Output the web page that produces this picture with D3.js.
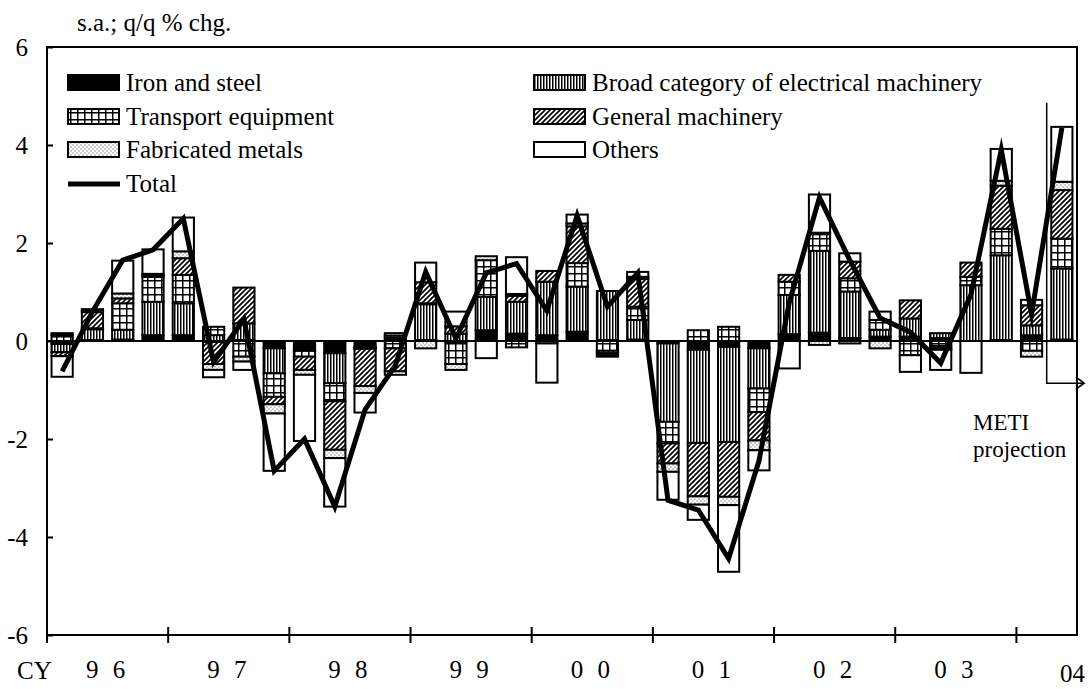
<!DOCTYPE html>
<html>
<head>
<meta charset="utf-8">
<script src="https://cdn.jsdelivr.net/npm/d3@7"></script>
<style>
  html, body { margin: 0; padding: 0; background: #fff; }
  svg text { font-family: "Liberation Serif", "Times New Roman", serif; fill: #000; }
</style>
</head>
<body>
<svg id="chart" width="1090" height="689"></svg>
<script>
// Quarterly contributions to industrial production growth (s.a., q/q % chg.)
const quarters = [
  "96Q1","96Q2","96Q3","96Q4","97Q1","97Q2","97Q3","97Q4",
  "98Q1","98Q2","98Q3","98Q4","99Q1","99Q2","99Q3","99Q4",
  "00Q1","00Q2","00Q3","00Q4","01Q1","01Q2","01Q3","01Q4",
  "02Q1","02Q2","02Q3","02Q4","03Q1","03Q2","03Q3","03Q4",
  "04Q1","04Q2"
];
const ironSteel = [
  -0.06, 0.02, 0.03, 0.12, 0.12, -0.02, 0.02, -0.15,
  -0.18, -0.25, -0.12, 0.06, 0.02, -0.02, 0.22, 0.15,
  0.12, 0.19, 0.02, 0.03, -0.05, -0.18, -0.12, -0.15,
  0.14, 0.17, 0.06, 0.09, 0.09, 0.06, 0.00, 0.02,
  0.12, 0.03
];
const electrical = [
  -0.17, 0.22, 0.20, 0.68, 0.65, 0.12, 0.34, -0.51,
  -0.02, -0.61, -0.02, 0.05, 0.73, 0.15, 0.68, 0.65,
  1.09, 0.92, 1.00, 0.40, -1.60, -1.90, -1.94, -0.82,
  0.80, 1.67, 0.95, 0.14, 0.37, 0.10, 1.14, 1.73,
  0.20, 1.45
];
const transport = [
  0.12, 0.02, 0.54, 0.51, 0.58, 0.17, -0.32, -0.48,
  -0.12, -0.37, -0.02, -0.15, 0.02, -0.45, 0.75, -0.13,
  -0.05, 0.48, -0.20, 0.27, -0.44, 0.22, 0.29, -0.48,
  0.27, 0.34, 0.27, 0.20, -0.29, -0.10, 0.17, 0.54,
  -0.20, 0.61
];
const generalMachinery = [
  -0.08, 0.33, 0.10, 0.03, 0.34, -0.45, 0.73, -0.15,
  -0.27, -0.99, -0.76, -0.47, 0.43, 0.15, 0.00, 0.12,
  0.22, 0.75, -0.05, 0.57, -0.41, -1.09, -1.12, -0.58,
  0.14, 0.03, 0.34, 0.00, 0.37, -0.05, 0.29, 0.88,
  0.41, 0.99
];
const fabricated = [
  0.04, 0.02, 0.10, 0.03, 0.14, -0.12, -0.10, -0.19,
  -0.10, -0.17, -0.14, 0.05, -0.15, -0.12, 0.08, 0.04,
  0.00, 0.06, -0.04, 0.04, -0.17, -0.17, -0.17, -0.20,
  0.00, -0.08, -0.05, -0.15, 0.00, -0.03, 0.00, 0.10,
  -0.12, 0.17
];
const others = [
  -0.42, 0.04, 0.67, 0.50, 0.69, -0.15, -0.17, -1.17,
  -1.35, -0.99, -0.40, -0.07, 0.40, 0.30, -0.35, 0.75,
  -0.80, 0.18, -0.03, 0.10, -0.57, -0.31, -1.36, -0.41,
  -0.56, 0.78, 0.17, 0.17, -0.34, -0.41, -0.65, 0.65,
  0.11, 1.12
];
const total = [
  -0.62, 0.60, 1.65, 1.86, 2.50, -0.43, 0.45, -2.65,
  -2.00, -3.38, -1.40, -0.50, 1.41, 0.05, 1.39, 1.58,
  0.62, 2.56, 0.70, 1.39, -3.25, -3.45, -4.44, -2.45,
  0.78, 2.93, 1.65, 0.47, 0.18, -0.45, 0.95, 3.90,
  0.55, 4.35
];
const yTickValues = [-6, -4, -2, 0, 2, 4, 6];
const yearLabels = ["9 6", "9 7", "9 8", "9 9", "0 0", "0 1", "0 2", "0 3", "04"];
const seriesKeys = ["iron", "elec", "trans", "gen", "fab", "oth"];
const seriesNames = [
  "Iron and steel", "Broad category of electrical machinery",
  "Transport equipment", "General machinery",
  "Fabricated metals", "Others"
];
const seriesFills = ["#000", "url(#pElec)", "url(#pGrid)", "url(#pDiag)", "url(#pDots)", "#fff"];

const svg = d3.select("#chart");
const plotLeft = 47, plotRight = 1077, plotTop = 47, plotBottom = 635;

// ---- fill patterns ----
const defs = svg.append("defs");
const pElec = defs.append("pattern").attr("id", "pElec")
  .attr("patternUnits", "userSpaceOnUse").attr("width", 3).attr("height", 3);
pElec.append("rect").attr("width", 3).attr("height", 3).attr("fill", "#fff");
pElec.append("rect").attr("x", 0).attr("width", 1.5).attr("height", 3).attr("fill", "#000");

const pGrid = defs.append("pattern").attr("id", "pGrid")
  .attr("patternUnits", "userSpaceOnUse").attr("width", 7).attr("height", 7);
pGrid.append("rect").attr("width", 7).attr("height", 7).attr("fill", "#fff");
pGrid.append("rect").attr("x", 0).attr("width", 1.5).attr("height", 7).attr("fill", "#000");
pGrid.append("rect").attr("y", 0).attr("width", 7).attr("height", 1.5).attr("fill", "#000");

const pDiag = defs.append("pattern").attr("id", "pDiag")
  .attr("patternUnits", "userSpaceOnUse").attr("width", 5).attr("height", 5);
pDiag.append("rect").attr("width", 5).attr("height", 5).attr("fill", "#fff");
pDiag.append("path").attr("d", "M-1,6 L6,-1 M-1,1 L1,-1 M4,6 L6,4")
  .attr("stroke", "#000").attr("stroke-width", 1.7);

const pDots = defs.append("pattern").attr("id", "pDots")
  .attr("patternUnits", "userSpaceOnUse").attr("width", 4).attr("height", 4);
pDots.append("rect").attr("width", 4).attr("height", 4).attr("fill", "#fff");
pDots.append("rect").attr("x", 0.5).attr("y", 0.5).attr("width", 1).attr("height", 1).attr("fill", "#333");
pDots.append("rect").attr("x", 2.5).attr("y", 2.5).attr("width", 1).attr("height", 1).attr("fill", "#333");

// ---- scales ----
const x = d3.scaleBand().domain(quarters).range([plotLeft, plotRight])
  .paddingInner(0.3).paddingOuter(0.15);
const y = d3.scaleLinear().domain([-6, 6]).range([plotBottom, plotTop]);
const step = x.step();

// ---- stacked data ----
const rows = quarters.map((q, i) => ({
  q,
  iron: ironSteel[i], elec: electrical[i], trans: transport[i],
  gen: generalMachinery[i], fab: fabricated[i], oth: others[i]
}));
const stacked = d3.stack().keys(seriesKeys).offset(d3.stackOffsetDiverging)(rows);

// ---- frame and zero line ----
svg.append("rect").attr("x", plotLeft).attr("y", plotTop)
  .attr("width", plotRight - plotLeft).attr("height", plotBottom - plotTop)
  .attr("fill", "none").attr("stroke", "#000").attr("stroke-width", 2);
svg.append("line").attr("x1", plotLeft).attr("x2", plotRight)
  .attr("y1", y(0)).attr("y2", y(0))
  .attr("stroke", "#000").attr("stroke-width", 2);

// ---- y axis ----
const yAxis = d3.axisRight(y).tickValues(yTickValues).tickSize(6).tickFormat("");
const gy = svg.append("g").attr("transform", `translate(${plotLeft},0)`).call(yAxis);
gy.select(".domain").remove();
gy.selectAll(".tick line").attr("stroke", "#000").attr("stroke-width", 2);
svg.append("g").selectAll("text").data(yTickValues).join("text")
  .attr("x", 28).attr("y", d => y(d)).attr("dy", "0.35em")
  .attr("text-anchor", "end").style("font-size", "25px").text(d => d);

// ---- x axis (year boundaries) ----
const yearStarts = d3.range(0, quarters.length, 4).map(i => x(quarters[i]) - step * x.paddingInner() / 2);
svg.append("g").selectAll("line").data(yearStarts).join("line")
  .attr("x1", d => d).attr("x2", d => d)
  .attr("y1", plotBottom - 8).attr("y2", plotBottom + 8)
  .attr("stroke", "#000").attr("stroke-width", 2);

svg.append("text").attr("x", 17).attr("y", 679).style("font-size", "25px").text("CY");
svg.append("g").selectAll("text").data(yearLabels).join("text")
  .attr("x", (d, i) => i < yearLabels.length - 1 ? yearStarts[i] + step * 2 : plotRight - 17)
  .attr("y", (d, i) => i < yearLabels.length - 1 ? 678 : 682)
  .attr("text-anchor", (d, i) => i < yearLabels.length - 1 ? "middle" : "start")
  .style("font-size", "25px")
  .style("letter-spacing", (d, i) => i < yearLabels.length - 1 ? "4px" : "0px")
  .text(d => d);

// ---- stacked bars ----
const bars = svg.append("g");
stacked.forEach((s, si) => {
  bars.append("g").selectAll("rect")
    .data(s.filter(d => d[1] !== d[0]))
    .join("rect")
    .attr("x", d => x(d.data.q))
    .attr("width", x.bandwidth())
    .attr("y", d => y(Math.max(d[0], d[1])))
    .attr("height", d => Math.abs(y(d[0]) - y(d[1])))
    .attr("fill", seriesFills[si])
    .attr("stroke", "#000").attr("stroke-width", 2);
});

// ---- total line ----
const line = d3.line().x((d, i) => x(quarters[i]) + x.bandwidth() / 2).y(d => y(d));
svg.append("path").datum(total).attr("d", line)
  .attr("fill", "none").attr("stroke", "#000").attr("stroke-width", 5)
  .attr("stroke-linejoin", "miter").attr("stroke-miterlimit", 6);

// ---- legend ----
const legend = svg.append("g");
const legendItems = [
  { name: seriesNames[0], fill: seriesFills[0], col: 0, row: 0 },
  { name: seriesNames[1], fill: seriesFills[1], col: 1, row: 0 },
  { name: seriesNames[2], fill: seriesFills[2], col: 0, row: 1 },
  { name: seriesNames[3], fill: seriesFills[3], col: 1, row: 1 },
  { name: seriesNames[4], fill: seriesFills[4], col: 0, row: 2 },
  { name: seriesNames[5], fill: seriesFills[5], col: 1, row: 2 }
];
const colX = [68, 534];
const rowBase = [91, 125, 158, 192];
legendItems.forEach(it => {
  const gx = colX[it.col], gb = rowBase[it.row];
  legend.append("rect").attr("x", gx).attr("y", gb - 16)
    .attr("width", 51).attr("height", 15)
    .attr("fill", it.fill).attr("stroke", "#000").attr("stroke-width", 2);
  legend.append("text").attr("x", gx + 58).attr("y", gb)
    .style("font-size", "25px").text(it.name);
});
legend.append("line").attr("x1", colX[0]).attr("x2", colX[0] + 52)
  .attr("y1", rowBase[3] - 8).attr("y2", rowBase[3] - 8)
  .attr("stroke", "#000").attr("stroke-width", 5);
legend.append("text").attr("x", colX[0] + 58).attr("y", rowBase[3])
  .style("font-size", "25px").text("Total");

// ---- unit label ----
svg.append("text").attr("x", 77).attr("y", 31).style("font-size", "25px").text("s.a.; q/q % chg.");

// ---- projection marker ----
const projX = x("04Q2") - step * x.paddingInner() / 2;
const arrowY = y(-0.86);
svg.append("path")
  .attr("d", `M${projX},${y(4.86)} L${projX},${arrowY} L${plotRight + 6},${arrowY}`)
  .attr("fill", "none").attr("stroke", "#000").attr("stroke-width", 1.5);
svg.append("path")
  .attr("d", `M${plotRight - 1},${arrowY - 6} L${plotRight + 7},${arrowY} L${plotRight - 1},${arrowY + 6}`)
  .attr("fill", "none").attr("stroke", "#000").attr("stroke-width", 1.8);
svg.append("text").attr("x", 973).attr("y", 430).style("font-size", "23px").text("METI");
svg.append("text").attr("x", 973).attr("y", 457).style("font-size", "23px").text("projection");
</script>
</body>
</html>
